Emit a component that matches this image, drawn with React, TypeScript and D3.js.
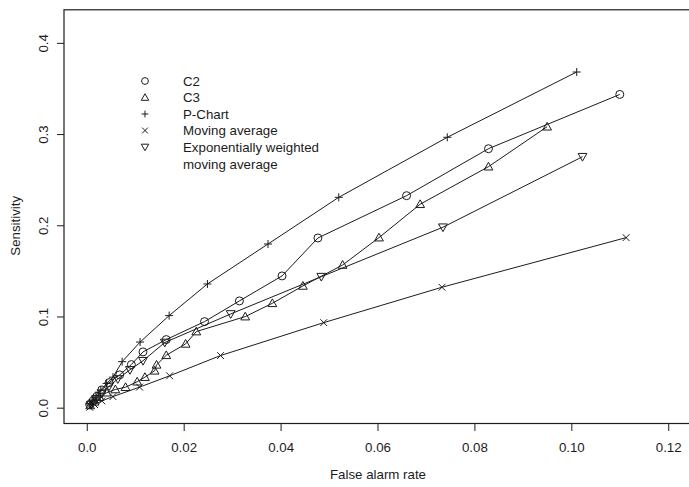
import React from "react";
import * as d3 from "d3";

// ---- data (false alarm rate, sensitivity) ----
const c2: [number, number][] = [
  [0.0005, 0.004], [0.0012, 0.008], [0.002, 0.013], [0.003, 0.02], [0.0045, 0.028],
  [0.0067, 0.0365], [0.0091, 0.0478], [0.0115, 0.0617], [0.0163, 0.0752], [0.0242, 0.0949],
  [0.0314, 0.1176], [0.0402, 0.145], [0.0476, 0.1866], [0.0659, 0.233], [0.0828, 0.2845],
  [0.1099, 0.344],
];
const c3: [number, number][] = [
  [0.0006, 0.003], [0.0015, 0.007], [0.0025, 0.012], [0.004, 0.017], [0.0058, 0.0205],
  [0.0079, 0.023], [0.0103, 0.029], [0.0119, 0.034], [0.0139, 0.041], [0.0143, 0.0475],
  [0.0163, 0.058], [0.0203, 0.0705], [0.0225, 0.084], [0.0326, 0.1004], [0.0382, 0.115],
  [0.0445, 0.134], [0.0527, 0.157], [0.0602, 0.187], [0.0687, 0.2236], [0.0828, 0.2648],
  [0.0949, 0.3086],
];
const pChart: [number, number][] = [
  [0.0005, 0.005], [0.001, 0.009], [0.0018, 0.014], [0.0028, 0.02], [0.004, 0.027],
  [0.0053, 0.034], [0.0072, 0.051], [0.0109, 0.0725], [0.0169, 0.1015], [0.0248, 0.1362],
  [0.0373, 0.18], [0.0519, 0.2312], [0.0743, 0.297], [0.101, 0.3686],
];
const movingAvg: [number, number][] = [
  [0.0005, 0.001], [0.0015, 0.004], [0.003, 0.008], [0.0053, 0.0127], [0.0108, 0.0231],
  [0.017, 0.0355], [0.0275, 0.0577], [0.0488, 0.0938], [0.0732, 0.1326], [0.1112, 0.187],
];
const ewma: [number, number][] = [
  [0.0008, 0.004], [0.0018, 0.01], [0.003, 0.016], [0.0045, 0.024], [0.0063, 0.032],
  [0.0088, 0.042], [0.0115, 0.052], [0.016, 0.072], [0.0296, 0.1033], [0.0483, 0.1442],
  [0.0734, 0.1984], [0.1022, 0.2757],
];

const xTicks = [0, 0.02, 0.04, 0.06, 0.08, 0.1, 0.12];
const xTickLabels = ["0.0", "0.02", "0.04", "0.06", "0.08", "0.10", "0.12"];
const yTicks = [0, 0.1, 0.2, 0.3, 0.4];
const yTickLabels = ["0.0", "0.1", "0.2", "0.3", "0.4"];

const legendLabels = ["C2", "C3", "P-Chart", "Moving average", "Exponentially weighted"];
const legendShapes = ["circle", "up", "plus", "cross", "down"];

const W = 689;
const H = 487;
const ink = "#1c1c1c";
const font = "'Liberation Sans', Arial, Helvetica, sans-serif";
const fs = 13.3;

// R style: xlim c(0,0.12), ylim c(0,0.42) with 4% padding
const x = d3.scaleLinear().domain([-0.0048, 0.1248]).range([64, 692]);
const y = d3.scaleLinear().domain([-0.0168, 0.4368]).range([423.5, 9.8]);

function Marker({ shape, cx, cy, s = 4 }: { shape: string; cx: number; cy: number; s?: number }) {
  const common = { fill: "none", stroke: ink, strokeWidth: 1 };
  if (shape === "circle") return <circle cx={cx} cy={cy} r={s} {...common} />;
  if (shape === "up") {
    const h = s * 1.1;
    return <path d={`M${cx},${cy - h}L${cx + h},${cy + h * 0.75}L${cx - h},${cy + h * 0.75}Z`} {...common} />;
  }
  if (shape === "down") {
    const h = s * 1.1;
    return <path d={`M${cx},${cy + h}L${cx + h},${cy - h * 0.75}L${cx - h},${cy - h * 0.75}Z`} {...common} />;
  }
  if (shape === "plus")
    return <path d={`M${cx - s},${cy}H${cx + s}M${cx},${cy - s}V${cy + s}`} {...common} />;
  const a = s * 0.85;
  return <path d={`M${cx - a},${cy - a}L${cx + a},${cy + a}M${cx - a},${cy + a}L${cx + a},${cy - a}`} {...common} />;
}

const series = [
  { data: c2, shape: "circle" },
  { data: c3, shape: "up" },
  { data: pChart, shape: "plus" },
  { data: movingAvg, shape: "cross" },
  { data: ewma, shape: "down" },
];

export default function App() {
  const line = d3.line<[number, number]>().x((d) => x(d[0])).y((d) => y(d[1]));
  const legendRows = [81, 97.5, 114, 130.5, 147];

  return (
    <svg width={W} height={H} style={{ position: "absolute", left: 0, top: 0, background: "#fff" }}>
      <rect x={0} y={0} width={W} height={H} fill="#fff" />
      {/* plot box */}
      <rect x={64} y={9.8} width={628} height={413.7} fill="none" stroke={ink} strokeWidth={1.2} />

      {/* x axis */}
      {xTicks.map((t, i) => (
        <g key={"x" + i}>
          <line x1={x(t)} x2={x(t)} y1={423.5} y2={431} stroke={ink} />
          <text x={x(t)} y={452} textAnchor="middle" fontFamily={font} fontSize={fs} fill={ink}>
            {xTickLabels[i]}
          </text>
        </g>
      ))}
      <text x={x(0.06)} y={479} textAnchor="middle" fontFamily={font} fontSize={fs} fill={ink}>
        False alarm rate
      </text>

      {/* y axis */}
      {yTicks.map((t, i) => (
        <g key={"y" + i}>
          <line x1={57} x2={64} y1={y(t)} y2={y(t)} stroke={ink} />
          <text
            transform={`translate(48,${y(t)}) rotate(-90)`}
            textAnchor="middle"
            fontFamily={font}
            fontSize={fs}
            fill={ink}
          >
            {yTickLabels[i]}
          </text>
        </g>
      ))}
      <text
        transform={`translate(20,${y(0.2)}) rotate(-90)`}
        textAnchor="middle"
        fontFamily={font}
        fontSize={fs}
        fill={ink}
      >
        Sensitivity
      </text>

      {/* series */}
      {series.map((s, i) => (
        <g key={"s" + i}>
          <path d={line(s.data) || ""} fill="none" stroke={ink} strokeWidth={1} />
          {s.data.map((d, j) => (
            <Marker key={j} shape={s.shape} cx={x(d[0])} cy={y(d[1])} />
          ))}
        </g>
      ))}

      {/* legend */}
      {legendLabels.map((lab, i) => (
        <g key={"l" + i}>
          <Marker shape={legendShapes[i]} cx={145} cy={legendRows[i]} s={3.4} />
          <text x={183} y={legendRows[i] + 4.7} fontFamily={font} fontSize={fs} fill={ink}>
            {lab}
          </text>
        </g>
      ))}
      <text x={183} y={legendRows[4] + 4.7 + 17} fontFamily={font} fontSize={fs} fill={ink}>
        moving average
      </text>
    </svg>
  );
}
